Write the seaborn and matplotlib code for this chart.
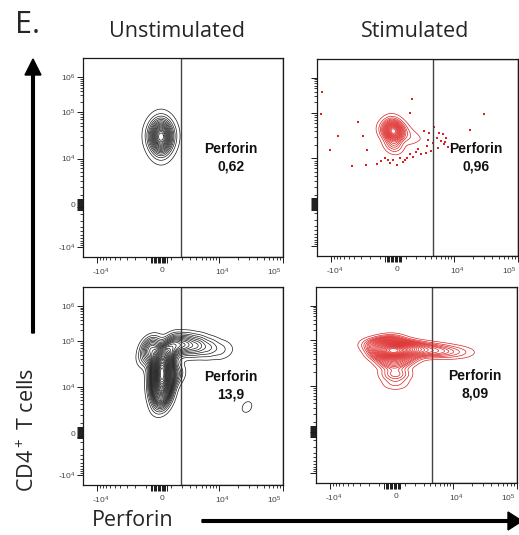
import matplotlib
matplotlib.use("Agg")
import matplotlib.pyplot as plt
from matplotlib.patches import FancyArrow, Rectangle
from matplotlib.transforms import IdentityTransform, ScaledTranslation
import numpy as np
import seaborn as sns

W, H = 519, 535

# column / gate labels
conditions = ["Unstimulated", "Stimulated"]
gate_name = "Perforin"
gate_values = ["0,62", "0,96", "13,9", "8,09"]

# population anchors in plot channel units (x: 0-200, y: 0-198)
unstim_top_x = [78, 72, 84, 78, 78]
unstim_top_y = [119, 121, 121, 127, 110]
unstim_top_w = [4, 1, 1, 1.2, 0.9]

stim_top_x = [76, 70, 82, 76, 76, 92, 104]
stim_top_y = [125, 126, 126, 132, 113, 120, 118]
stim_top_w = [5, 1, 1, 1, 1.2, 0.3, 0.1]

# single events of the stimulated top sample shown as dots
stim_top_dots_x = [5, 4, 13, 21, 41, 35, 49, 50, 60, 46, 95, 93, 116, 125, 119,
                   123, 128, 126, 120, 130, 113, 108, 103, 96, 90, 83, 76, 73,
                   80, 71, 100, 109, 115, 152, 166, 86, 93, 111, 106, 121, 127,
                   110, 99, 64, 68, 88]
stim_top_dots_y = [165, 143, 107, 121, 135, 90, 91, 107, 92, 121, 158, 144, 130,
                   123, 119, 116, 119, 113, 109, 110, 106, 104, 103, 100, 99, 98,
                   96, 93, 91, 96, 108, 111, 114, 127, 143, 94, 103, 124, 126,
                   124, 115, 117, 105, 95, 99, 96]

unstim_bot_x = [79, 79, 79, 79, 79, 78, 68, 64, 90, 102, 114, 126, 138, 148,
                92, 164]
unstim_bot_y = [128, 118, 108, 98, 88, 78, 138, 128, 140, 140, 139, 137, 135,
                134, 110, 78]
unstim_bot_w = [3, 4, 4, 3.5, 1.5, 0.4, 1.2, 0.5, 1.5, 1.2, 0.9, 0.55, 0.3,
                0.1, 0.6, 0.2]

stim_bot_x = [77, 68, 88, 100, 114, 128, 142, 154, 57, 75, 77, 79, 79, 66, 90]
stim_bot_y = [133, 138, 136, 135, 134, 133, 132, 132, 140, 143, 122, 110, 100,
              130, 126]
stim_bot_w = [6, 2, 2, 1.3, 0.9, 0.6, 0.3, 0.1, 0.5, 1.0, 1.5, 0.9, 0.35, 0.8,
              0.6]

# axis decades
x_tick_values = [-1e4, 0, 1e4, 1e5]
x_tick_labels = ["-10$^4$", "0", "10$^4$", "10$^5$"]
y_tick_values = [-1e4, 0, 1e4, 1e5, 1e6]
y_tick_labels = ["-10$^4$", "0", "10$^4$", "10$^5$", "10$^6$"]

X_POS = [14, 76, 136, 200]
Y_POS = [10, 52, 98, 144, 179]
LINEAR_WIDTH = 2000

BLACK = "#1a1a1a"
RED = "#dc1f1f"


def to_channel(values, decades, positions):
    u = np.arcsinh(np.asarray(values, float) / LINEAR_WIDTH)
    ref = np.arcsinh(np.asarray(decades, float) / LINEAR_WIDTH)
    return np.interp(u, ref, positions)


def minor_values(top):
    vals = []
    for d in [1000, 1e4, 1e5]:
        for k in range(1, 10):
            for v in (k * d, -k * d):
                if -1e4 < v < top and v not in (0, 1e4, 1e5, 1e6, -1e4):
                    vals.append(v)
    return vals


def near_zero_values():
    return [s * k * 100 for k in range(1, 7) for s in (1, -1)]


def style_axis(ax, show_ylabels):
    xs = to_channel(x_tick_values, x_tick_values, X_POS)
    ys = to_channel(y_tick_values, y_tick_values, Y_POS)
    xz = to_channel(near_zero_values(), x_tick_values, X_POS)
    yz = to_channel(near_zero_values(), y_tick_values, Y_POS)
    ax.set_xticks(list(xs) + list(xz), x_tick_labels + [""] * len(xz))
    ylab = y_tick_labels if show_ylabels else [""] * len(ys)
    ax.set_yticks(list(ys) + list(yz), ylab + [""] * len(yz))
    ax.set_xticks(to_channel(minor_values(1e5), x_tick_values, X_POS), minor=True)
    ax.set_yticks(to_channel(minor_values(1e6), y_tick_values, Y_POS), minor=True)
    ax.set_xlim(0, 200)
    ax.set_ylim(0, 198)
    ax.tick_params(which="both", bottom=True, left=True, top=False, right=False)
    ax.tick_params(which="major", direction="out", length=4, width=0.7,
                   color=BLACK, labelsize=6, labelcolor="#444444")
    ax.tick_params(axis="x", which="major", pad=3)
    ax.tick_params(axis="y", which="major", pad=1.5)
    ax.tick_params(which="minor", direction="out", length=2.2, width=0.6,
                   color=BLACK)
    xlabels = ax.get_xticklabels()
    for j, lbl in enumerate(xlabels[:len(x_tick_labels)]):
        if j == len(x_tick_labels) - 1:
            lbl.set_horizontalalignment("right")
            dx = -1 / 72
        else:
            dx = 2.5 / 72
        lbl.set_transform(lbl.get_transform()
                          + ScaledTranslation(dx, 0, ax.figure.dpi_scale_trans))
    for lbl in ax.get_xticklabels() + ax.get_yticklabels():
        lbl.set_fontfamily("Liberation Sans")
    for sp in ax.spines.values():
        sp.set_visible(True)
        sp.set_color(BLACK)
        sp.set_linewidth(0.9)
    ax.set_xlabel("")
    ax.set_ylabel("")


sns.set_theme(style="white")
plt.rcParams["font.family"] = ["Open Sans", "DejaVu Sans"]
plt.rcParams["mathtext.default"] = "regular"

fig = plt.figure(figsize=(W / 100, H / 100), dpi=100)


def px_rect(left, top, right, bottom):
    return [left / W, 1 - bottom / H, (right - left) / W, (bottom - top) / H]


panels = [
    dict(rect=px_rect(83, 58, 283, 257), x=unstim_top_x, y=unstim_top_y,
         w=unstim_top_w, color=BLACK, levels=18, bw=2.2, gate=98,
         label=gate_values[0], ylab=True),
    dict(rect=px_rect(317, 59, 518, 256), x=stim_top_x, y=stim_top_y,
         w=stim_top_w, color=RED, levels=18, bw=1.1, gate=115,
         label=gate_values[1], ylab=False),
    dict(rect=px_rect(83, 287, 283, 485), x=unstim_bot_x, y=unstim_bot_y,
         w=unstim_bot_w, color=BLACK, levels=30, bw=0.55, gate=98,
         label=gate_values[2], ylab=True),
    dict(rect=px_rect(316, 287, 517, 483), x=stim_bot_x, y=stim_bot_y,
         w=stim_bot_w, color=RED, levels=26, bw=0.7, gate=115,
         label=gate_values[3], ylab=False),
]

for i, p in enumerate(panels):
    ax = fig.add_axes(p["rect"])
    sns.kdeplot(x=p["x"], y=p["y"], weights=p["w"], levels=p["levels"],
                thresh=0.03, bw_adjust=p["bw"], color=p["color"],
                linewidths=0.5, ax=ax)
    if i == 1:
        sns.scatterplot(x=stim_top_dots_x, y=stim_top_dots_y, color=RED,
                        s=2, marker="s", linewidth=0, ax=ax)
    ax.add_patch(Rectangle((p["gate"], 0), 200 - p["gate"], 198, fill=False,
                           edgecolor="#444444", linewidth=1.0))
    lx = 148 if p["gate"] < 110 else 158
    ax.text(lx, 99, f"{gate_name}\n{p['label']}", ha="center", va="center",
            fontsize=10, fontweight="bold", family="Liberation Sans",
            linespacing=1.3, color="#111111")
    style_axis(ax, p["ylab"])

fig.text(15 / W, 1 - 33 / H, "E.", fontsize=22, ha="left", va="baseline")
fig.text(177 / W, 1 - 37 / H, conditions[0], fontsize=15.5, ha="center",
         va="baseline")
fig.text(415 / W, 1 - 37 / H, conditions[1], fontsize=15.5, ha="center",
         va="baseline")
fig.text(28 / W, 1 - 430 / H, "CD4$^+$ T cells", fontsize=15.5, rotation=90,
         ha="center", va="center")
fig.text(133 / W, 1 - 521 / H, "Perforin", fontsize=15.5, ha="center",
         va="center")

# axis direction arrows (pixel coordinates)
fig.add_artist(FancyArrow(33, H - 333, 0, 333 - 59, width=2.7, head_width=16,
                          head_length=16, length_includes_head=True,
                          color="black", transform=IdentityTransform()))
fig.add_artist(FancyArrow(202, H - 521, 320, 0, width=2.7, head_width=18,
                          head_length=14, length_includes_head=True,
                          color="black", transform=IdentityTransform()))

fig.savefig("out.png", dpi=100)
